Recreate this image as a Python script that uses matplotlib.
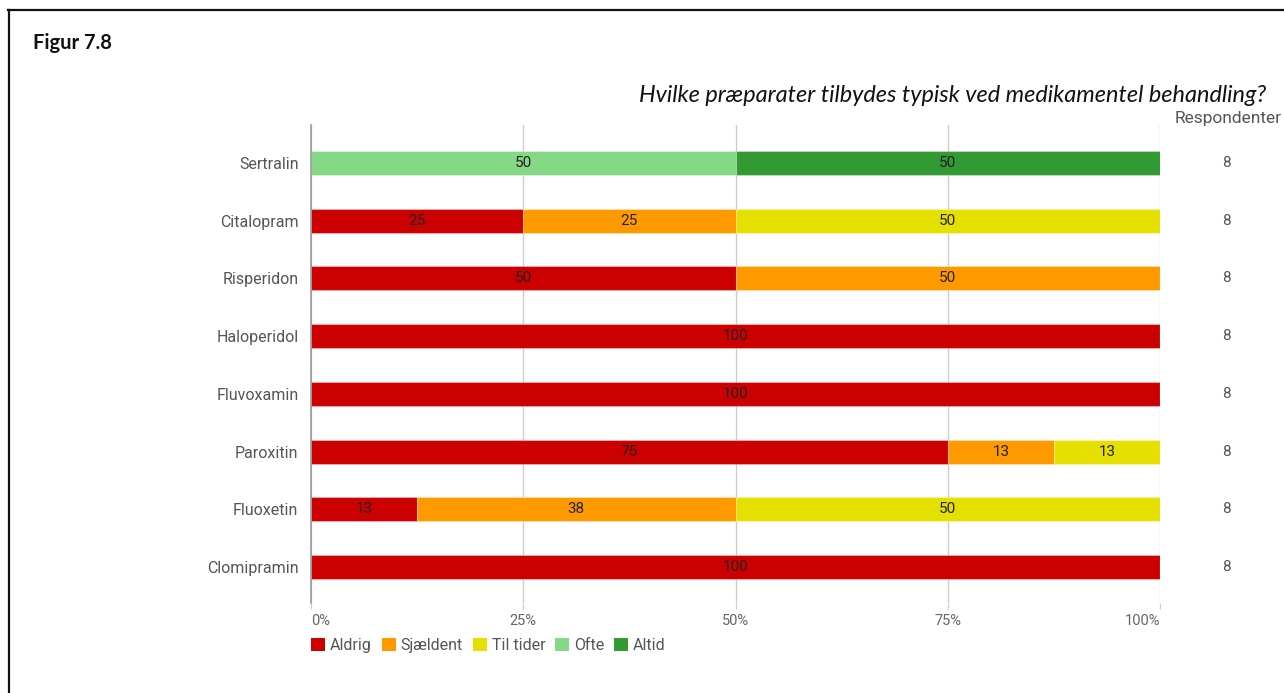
import numpy as np
import matplotlib
matplotlib.use("Agg")
import matplotlib.pyplot as plt
from matplotlib.patches import Patch
from matplotlib.lines import Line2D

# Response counts per preparation (8 respondents each)
preparations = ["Sertralin", "Citalopram", "Risperidon", "Haloperidol",
                "Fluvoxamin", "Paroxitin", "Fluoxetin", "Clomipramin"]
answers = ["Aldrig", "Sjældent", "Til tider", "Ofte", "Altid"]
aldrig    = [0, 2, 4, 8, 8, 6, 1, 8]
sjaeldent = [0, 2, 4, 0, 0, 1, 3, 0]
til_tider = [0, 4, 0, 0, 0, 1, 4, 0]
ofte      = [4, 0, 0, 0, 0, 0, 0, 0]
altid     = [4, 0, 0, 0, 0, 0, 0, 0]
respondents = [8, 8, 8, 8, 8, 8, 8, 8]
x_ticks = [0, 25, 50, 75, 100]
x_tick_labels = ["0%", "25%", "50%", "75%", "100%"]

colors = ["#cc0000", "#ff9900", "#e6e000", "#85d885", "#339933"]

W, H = 1284, 693
fig = plt.figure(figsize=(W / 100, H / 100), dpi=100)
fig.patch.set_facecolor("white")

def fx(px):
    return px / W

def fy(py):
    return 1 - py / H

# Plot area
ax_left, ax_right, ax_top, ax_bottom = 311, 1160, 125, 603
ax = fig.add_axes([fx(ax_left), fy(ax_bottom), fx(ax_right - ax_left),
                   (ax_bottom - ax_top) / H])

counts = np.array([aldrig, sjaeldent, til_tider, ofte, altid], dtype=float)
totals = np.array(respondents, dtype=float)
shares = counts / totals * 100
ypos = np.arange(len(preparations))
bar_h = 0.416

left = np.zeros(len(preparations))
for k, name in enumerate(answers):
    vals = shares[k]
    ax.barh(ypos, vals, left=left, height=bar_h, color=colors[k],
            edgecolor=(1, 1, 1, 0.3), linewidth=0.8, zorder=3, label=name)
    for i, v in enumerate(vals):
        if v > 0:
            ax.text(left[i] + v / 2, ypos[i], f"{int(np.floor(v + 0.5))}",
                    ha="center", va="center", fontsize=11,
                    color="#222222", family="Roboto", zorder=4)
    left += vals

step = 57.71
ax.set_ylim((ax_bottom - 163) / step, -(163 - ax_top) / step)
ax.set_xlim(0, 100)

for s in ["top", "right", "bottom"]:
    ax.spines[s].set_visible(False)
ax.spines["left"].set_color("#999999")
ax.spines["left"].set_linewidth(1.2)
ax.spines["left"].set_zorder(5)

ax.set_xticks(x_ticks)
ax.set_xticklabels(x_tick_labels, family="Roboto", fontsize=10.5, color="#666666")
ax.tick_params(axis="x", length=4, color="#cccccc", pad=4)
tick_texts = ax.get_xticklabels()
tick_texts[0].set_horizontalalignment("left")
tick_texts[-1].set_horizontalalignment("right")
ax.grid(axis="x", color="#cccccc", linewidth=1, zorder=0)
ax.set_axisbelow(True)

ax.set_yticks(ypos)
ax.set_yticklabels(preparations, family="Roboto", fontsize=11.5, color="#555555")
ax.tick_params(axis="y", length=0, pad=9)

# Respondent counts column
fig.text(fx(1175), fy(118), "Respondenter", family="Roboto", fontsize=12.5,
         color="#555555", ha="left", va="center")
for i, n in enumerate(respondents):
    fig.text(fx(1226), fy(163 + step * i), f"{n}", family="Roboto",
             fontsize=11, color="#555555", ha="center", va="center")

# Legend
handles = [Patch(facecolor=c, edgecolor="none") for c in colors]
fig.legend(handles, answers, loc="upper left",
           bbox_to_anchor=(fx(311), fy(638)), ncol=5, frameon=False,
           prop={"family": "Roboto", "size": 11.5}, labelcolor="#555555",
           handlelength=0.9, handleheight=0.9, handletextpad=0.3,
           columnspacing=0.6, borderpad=0, borderaxespad=0)

# Heading and question
fig.text(fx(33), fy(43), "Figur 7.8", family="Lato", fontweight="bold",
         fontsize=14.5, color="#111111", ha="left", va="center")
fig.text(fx(1266), fy(96), "Hvilke præparater tilbydes typisk ved medikamentel behandling?",
         family="Lato", style="italic", fontsize=16.9, color="#111111",
         ha="right", va="center")

# Frame lines
fig.add_artist(Line2D([fx(8), 1], [fy(10), fy(10)], color="#111111", lw=1.6))
fig.add_artist(Line2D([fx(8.5), fx(8.5)], [fy(10), 0], color="#111111", lw=1.6))

fig.savefig("out.png", dpi=100, facecolor="white")
